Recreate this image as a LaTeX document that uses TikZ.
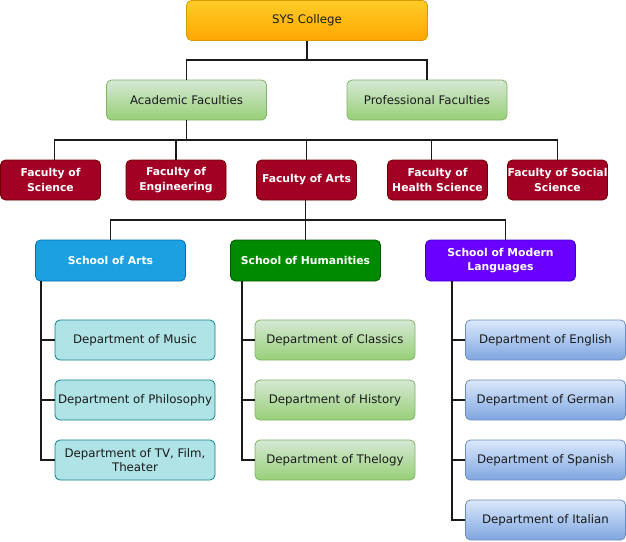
\documentclass[tikz,border=0pt]{standalone}
\usepackage{fontspec}
\setmainfont{DejaVu Sans}
\definecolor{orT}{HTML}{FFCD28}
\definecolor{orB}{HTML}{FFA500}
\definecolor{orD}{HTML}{D79B00}
\definecolor{gnT}{HTML}{D5E8D4}
\definecolor{gnB}{HTML}{97D077}
\definecolor{gnD}{HTML}{82B366}
\definecolor{fac}{HTML}{A20025}
\definecolor{facD}{HTML}{6F0000}
\definecolor{sa}{HTML}{1BA1E2}
\definecolor{saD}{HTML}{006EAF}
\definecolor{sh}{HTML}{008A00}
\definecolor{shD}{HTML}{005700}
\definecolor{sm}{HTML}{6A00FF}
\definecolor{smD}{HTML}{3700CC}
\definecolor{dA}{HTML}{B0E3E6}
\definecolor{dAD}{HTML}{0E8088}
\definecolor{blT}{HTML}{DAE8FC}
\definecolor{blB}{HTML}{7EA6E0}
\definecolor{blD}{HTML}{6C8EBF}
\definecolor{txt}{HTML}{1A1A1A}
\tikzset{
  box/.style={rounded corners=5pt, line width=0.8pt, inner sep=0pt, align=center,
    font=\fontsize{11.8}{14.5}\selectfont, text=txt},
  sysbox/.style={box, top color=orT, bottom color=orB, draw=orD, minimum width=241pt, minimum height=40pt},
  grbox/.style={box, top color=gnT, bottom color=gnB, draw=gnD, minimum width=160pt, minimum height=40pt},
  facbox/.style={box, fill=fac, draw=facD, text=white, font=\fontsize{10.8}{14.5}\selectfont\bfseries, minimum width=100pt, minimum height=40pt},
  schoolbox/.style={box, text=white, font=\fontsize{10.8}{14.5}\selectfont\bfseries, minimum width=150pt, minimum height=41pt},
  deptA/.style={box, fill=dA, draw=dAD, minimum width=160pt, minimum height=40pt},
  deptH/.style={box, top color=gnT, bottom color=gnB, draw=gnD, minimum width=160pt, minimum height=40pt},
  deptM/.style={box, top color=blT, bottom color=blB, draw=blD, minimum width=160pt, minimum height=40pt},
  conn/.style={line width=1.5pt, draw=txt}
}
\begin{document}
\begin{tikzpicture}[x=1pt,y=-1pt]
\useasboundingbox (0,0) rectangle (626,541);
% top
\node[sysbox] (sys) at (307,20.5) {SYS College};
\node[grbox] (acad) at (186.5,100) {Academic Faculties};
\node[grbox] (prof) at (427,100) {Professional Faculties};
% faculties
\node[facbox] (sci) at (50.5,180) {Faculty of\\Science};
\node[facbox] (eng) at (176,180) {Faculty of\\Engineering};
\node[facbox] (farts) at (306.5,180) {Faculty of Arts};
\node[facbox] (hs) at (437.5,180) {Faculty of\\Health Science};
\node[facbox] (soc) at (557.5,180) {Faculty of Social\\Science};
% schools
\node[schoolbox, fill=sa, draw=saD] (sarts) at (110.5,260.5) {School of Arts};
\node[schoolbox, fill=sh, draw=shD] (hum) at (305.5,260.5) {School of Humanities};
\node[schoolbox, fill=sm, draw=smD] (mod) at (500.5,260.5) {School of Modern\\Languages};
% departments arts
\node[deptA] (a1) at (135,340) {Department of Music};
\node[deptA] (a2) at (135,400) {Department of Philosophy};
\node[deptA] (a3) at (135,460) {Department of TV, Film,\\Theater};
% humanities
\node[deptH] (h1) at (335,340) {Department of Classics};
\node[deptH] (h2) at (335,400) {Department of History};
\node[deptH] (h3) at (335,460) {Department of Thelogy};
% modern
\node[deptM] (m1) at (545.5,340) {Department of English};
\node[deptM] (m2) at (545.5,400) {Department of German};
\node[deptM] (m3) at (545.5,460) {Department of Spanish};
\node[deptM] (m4) at (545.5,520) {Department of Italian};
% connectors
\coordinate (j1) at (307,60);
\draw[conn] (sys.south) -- (j1);
\draw[conn] (acad.north) |- (j1) -| (prof.north);
\coordinate (j2) at (186.5,140);
\draw[conn] (acad.south) -- (j2);
\draw[conn] ([xshift=4pt]sci.north) |- (j2) -| (soc.north);
\draw[conn] (eng.north) -- (eng.north |- j2);
\draw[conn] (farts.north) -- (farts.north |- j2);
\draw[conn] ([xshift=-6pt]hs.north) -- ([xshift=-6pt]hs.north |- j2);
\coordinate (j3) at (305.5,220);
\draw[conn] (farts.south -| hum.north) -- (hum.north);
\draw[conn] (sarts.north) |- (j3) -| ([xshift=5pt]mod.north);
% department branches
\coordinate (va) at ([xshift=6pt]sarts.south west);
\draw[conn] (va) |- (a3.west);
\draw[conn] (a1.west) -- (a1.west -| va);
\draw[conn] (a2.west) -- (a2.west -| va);
\coordinate (vh) at ([xshift=12pt]hum.south west);
\draw[conn] (vh) |- (h3.west);
\draw[conn] (h1.west) -- (h1.west -| vh);
\draw[conn] (h2.west) -- (h2.west -| vh);
\coordinate (vm) at ([xshift=27pt]mod.south west);
\draw[conn] (vm) |- (m4.west);
\draw[conn] (m1.west) -- (m1.west -| vm);
\draw[conn] (m2.west) -- (m2.west -| vm);
\draw[conn] (m3.west) -- (m3.west -| vm);
\end{tikzpicture}
\end{document}
